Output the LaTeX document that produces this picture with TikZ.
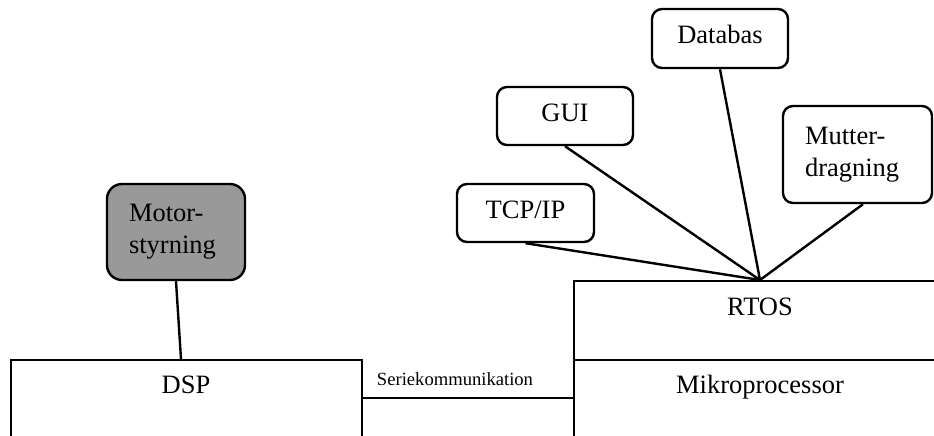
\documentclass[tikz,border=0pt]{standalone}
\usepackage{fontspec}
\setmainfont{Liberation Serif}
\newcommand{\mainsize}{\fontsize{13.25pt}{16pt}\selectfont}
\newcommand{\smallsize}{\fontsize{9.3pt}{11pt}\selectfont}
\tikzset{
  box/.style={draw, line width=1.2pt, rounded corners=5pt, fill=white,
    inner sep=0pt, font=\mainsize, text height=0.75em, text depth=0.25em},
  twoline/.style={draw, line width=1.2pt, rounded corners=5pt, fill=white,
    inner xsep=11pt, inner ysep=0pt, align=left, font=\mainsize},
  block/.style={draw, line width=1.2pt, anchor=north west, inner sep=0pt},
  link/.style={line width=1.2pt},
  lbl/.style={font=\mainsize, anchor=base, inner sep=0pt},
}
\begin{document}
\begin{tikzpicture}[x=0.5pt, y=-0.5pt]
  \useasboundingbox (0,0) rectangle (934,435);
  \clip (0,0) rectangle (934,435);

  % hardware blocks (run off the lower and right edges)
  \node[block, minimum width=175.5pt, minimum height=100pt] (dsp) at (10,359) {};
  \node[block, minimum width=200pt, minimum height=39.5pt] (rtos) at (573,280) {};
  \node[block, minimum width=200pt, minimum height=60pt] (micro) at (573,359) {};

  \node[lbl] (dsplbl) at (186,393) {DSP};
  \node[lbl] (rtoslbl) at (760,315) {RTOS};
  \node[lbl] (microlbl) at (760,393) {Mikroprocessor};

  % software modules
  \node[box, minimum width=68.5pt, minimum height=29pt] (tcp) at (525.5,213) {TCP/IP};
  \node[box, minimum width=68pt, minimum height=29pt] (gui) at (565,116) {GUI};
  \node[box, minimum width=68pt, minimum height=29.5pt] (db) at (720,38.5) {Databas};
  \node[twoline, text width=52.5pt, minimum height=48.5pt] (mutter) at (857.5,154.5) {Mutter-\\dragning};
  \node[twoline, fill=black!40, rounded corners=7.5pt, text width=47pt, minimum height=48pt] (motor) at (176,232) {Motor-\\styrning};

  % connectors
  \coordinate (hub) at (760,280);
  \coordinate (dsptop) at (181,359);
  \coordinate (serial) at (0,398);

  \draw[link] (tcp.south) -- (hub);
  \draw[link] (gui.south) -- (hub);
  \draw[link] (db.south) -- (hub);
  \draw[link] ([xshift=2.75pt]mutter.south) -- (hub);
  \draw[link] (motor.south) -- (dsptop);
  \draw[link] (dsp.east |- serial) -- (micro.west |- serial);

  \node[font=\smallsize, anchor=base, inner sep=0pt] (seriallbl) at (455,385) {Seriekommunikation};
\end{tikzpicture}
\end{document}
